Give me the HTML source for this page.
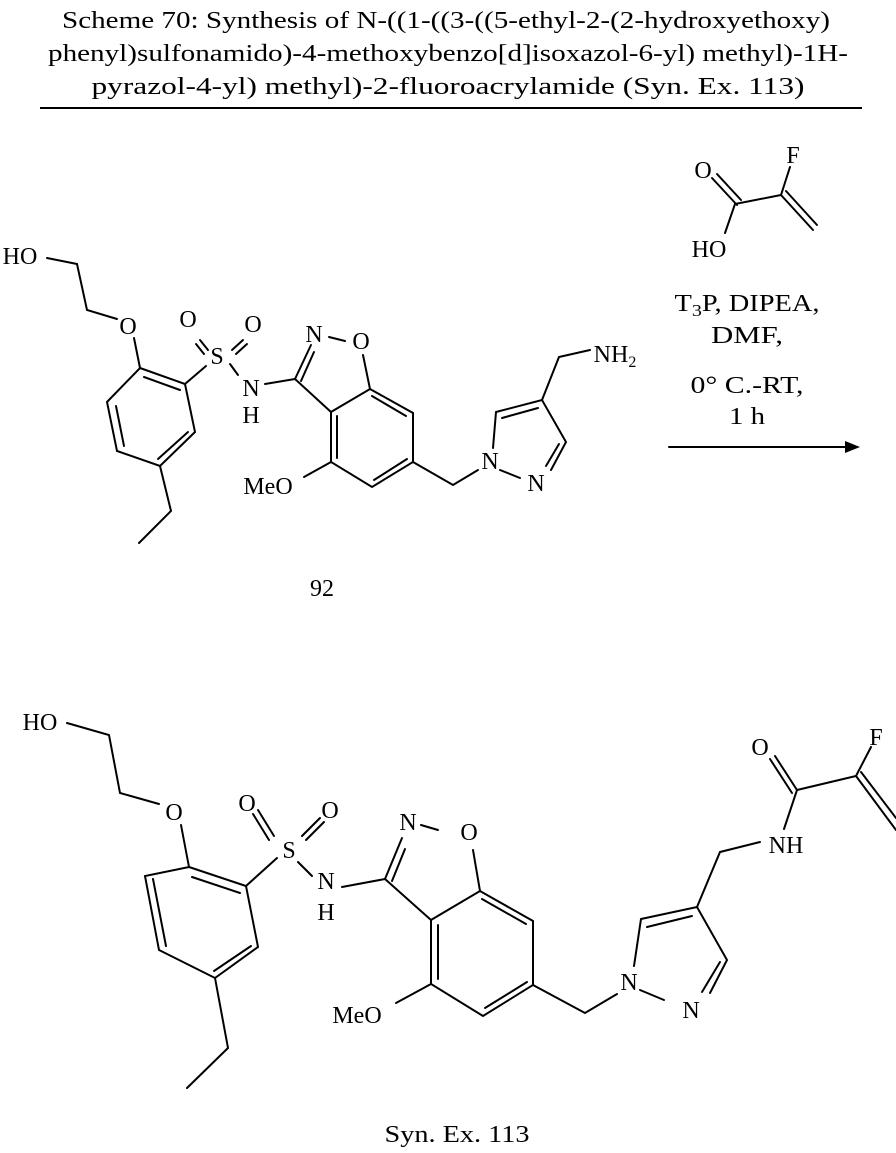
<!DOCTYPE html>
<html><head><style>
html,body{margin:0;padding:0;background:#fff;}
svg text{font-family:"Liberation Serif",serif;fill:#000;}
</style></head><body>
<svg width="896" height="1148" viewBox="0 0 896 1148" xmlns="http://www.w3.org/2000/svg">
<g font-size="24" text-anchor="middle">
<text x="446" y="28" textLength="768" lengthAdjust="spacingAndGlyphs">Scheme 70: Synthesis of N-((1-((3-((5-ethyl-2-(2-hydroxyethoxy)</text>
<text x="448" y="61" textLength="800" lengthAdjust="spacingAndGlyphs">phenyl)sulfonamido)-4-methoxybenzo[d]isoxazol-6-yl) methyl)-1H-</text>
<text x="448" y="94" textLength="713" lengthAdjust="spacingAndGlyphs">pyrazol-4-yl) methyl)-2-fluoroacrylamide (Syn. Ex. 113)</text>
</g>
<line x1="40" y1="108" x2="862" y2="108" stroke="#000" stroke-width="2"/>

<g stroke="#000" stroke-width="2" fill="none" stroke-linecap="round">
<polyline points="47,258 77,264 87,310 117,319"/>
<line x1="134" y1="338" x2="140" y2="368"/>
<polygon points="140,368 185,384 195,432 160,466 117,451 107,402"/>
<line x1="144" y1="377" x2="180" y2="390"/>
<line x1="188" y1="432" x2="158" y2="459"/>
<line x1="116" y1="406" x2="124" y2="446"/>
<polyline points="160,466 171,511 139,543"/>
<line x1="185" y1="384" x2="206" y2="366"/>
<line x1="200" y1="340" x2="208" y2="350"/><line x1="196" y1="344" x2="204" y2="354"/>
<line x1="232" y1="350" x2="243" y2="340"/><line x1="236" y1="354" x2="247" y2="344"/>
<line x1="230" y1="364" x2="238" y2="375"/>
<line x1="265" y1="384" x2="295" y2="379"/>
<line x1="295" y1="379" x2="311" y2="345"/><line x1="301" y1="381" x2="314" y2="352"/>
<line x1="329" y1="337" x2="345" y2="341"/>
<line x1="363" y1="355" x2="370" y2="389"/>
<line x1="295" y1="379" x2="331" y2="412"/>
<polygon points="331,412 331,462 372,487 413,462 413,413 370,389"/>
<line x1="337" y1="416" x2="337" y2="458"/>
<line x1="374" y1="480" x2="407" y2="459"/>
<line x1="372" y1="396" x2="406" y2="416"/>
<line x1="331" y1="462" x2="304" y2="477"/>
<polyline points="413,462 453,485 478,470"/>
<line x1="493" y1="448" x2="496" y2="412"/>
<polyline points="496,412 542,400 566,442 551,470"/>
<line x1="502" y1="418" x2="538" y2="408"/>
<line x1="559" y1="444" x2="546" y2="466"/>
<line x1="500" y1="470" x2="520" y2="478"/>
<polyline points="542,400 559,357 590,350"/>

<line x1="712" y1="178" x2="737" y2="205"/><line x1="717" y1="174" x2="741" y2="200"/>
<polyline points="725,233 735,204 781,195 790,167"/>
<line x1="781" y1="195" x2="813" y2="230"/><line x1="786" y1="191" x2="817" y2="225"/>
<line x1="669" y1="447" x2="845" y2="447"/>

<polyline points="67,723 109,735 120,793 159,804"/>
<line x1="181" y1="825" x2="189" y2="867"/>
<polygon points="189,867 246,886 258,947 215,978 159,950 145,876"/>
<line x1="192" y1="877" x2="240" y2="893"/>
<line x1="251" y1="946" x2="214" y2="971"/>
<line x1="153" y1="879" x2="166" y2="946"/>
<polyline points="215,978 228,1048 187,1088"/>
<line x1="246" y1="886" x2="277" y2="858"/>
<line x1="258" y1="810" x2="274" y2="836"/><line x1="253" y1="814" x2="269" y2="840"/>
<line x1="302" y1="836" x2="320" y2="818"/><line x1="306" y1="840" x2="324" y2="822"/>
<line x1="298" y1="862" x2="312" y2="876"/>
<line x1="342" y1="887" x2="385" y2="879"/>
<line x1="385" y1="879" x2="402" y2="838"/><line x1="392" y1="881" x2="405" y2="849"/>
<line x1="421" y1="825" x2="438" y2="830"/>
<line x1="473" y1="850" x2="480" y2="891"/>
<line x1="385" y1="879" x2="431" y2="920"/>
<polygon points="431,920 431,984 483,1016 533,985 533,921 480,891"/>
<line x1="438" y1="925" x2="438" y2="979"/>
<line x1="485" y1="1008" x2="527" y2="982"/>
<line x1="482" y1="899" x2="526" y2="924"/>
<line x1="431" y1="984" x2="396" y2="1003"/>
<polyline points="533,985 585,1013 617,994"/>
<line x1="634" y1="966" x2="641" y2="919"/>
<polyline points="641,919 697,907 727,960 710,993"/>
<line x1="647" y1="927" x2="692" y2="916"/>
<line x1="720" y1="962" x2="702" y2="992"/>
<line x1="640" y1="990" x2="664" y2="1000"/>
<polyline points="697,907 720,852 760,842"/>
<polyline points="784,829 797,790 856,776 871,747"/>
<line x1="797" y1="790" x2="775" y2="756"/><line x1="792" y1="793" x2="770" y2="759"/>
<line x1="856" y1="776" x2="896" y2="830"/><line x1="861" y1="772" x2="896" y2="818"/>
</g>
<polygon points="845,441 860,447 845,453" fill="#000"/>

<g font-size="24" text-anchor="middle">
<text x="20" y="264">HO</text>
<text x="128" y="334">O</text>
<text x="217" y="364">S</text>
<text x="188" y="327">O</text>
<text x="253" y="332">O</text>
<text x="251" y="396">N</text>
<text x="251" y="423">H</text>
<text x="314" y="342">N</text>
<text x="361" y="349">O</text>
<text x="268" y="494">MeO</text>
<text x="490" y="469">N</text>
<text x="536" y="491">N</text>
<text x="615" y="362">NH<tspan font-size="16" dy="5">2</tspan></text>
<text x="322" y="596">92</text>
<text x="703" y="178">O</text>
<text x="793" y="163">F</text>
<text x="709" y="257">HO</text>
<text x="747" y="311" textLength="145" lengthAdjust="spacingAndGlyphs">T<tspan font-size="17" dy="5">3</tspan><tspan dy="-5">P, DIPEA,</tspan></text>
<text x="747" y="343" textLength="72" lengthAdjust="spacingAndGlyphs">DMF,</text>
<text x="747" y="393" textLength="113" lengthAdjust="spacingAndGlyphs">0° C.-RT,</text>
<text x="747" y="424" textLength="36" lengthAdjust="spacingAndGlyphs">1 h</text>
<text x="40" y="730">HO</text>
<text x="174" y="820">O</text>
<text x="289" y="858">S</text>
<text x="247" y="811">O</text>
<text x="330" y="818">O</text>
<text x="326" y="889">N</text>
<text x="326" y="920">H</text>
<text x="408" y="830">N</text>
<text x="469" y="840">O</text>
<text x="357" y="1023">MeO</text>
<text x="629" y="990">N</text>
<text x="691" y="1018">N</text>
<text x="786" y="853">NH</text>
<text x="760" y="755">O</text>
<text x="876" y="745">F</text>
<text x="457" y="1142" textLength="145" lengthAdjust="spacingAndGlyphs">Syn. Ex. 113</text>
</g>
</svg>
</body></html>
